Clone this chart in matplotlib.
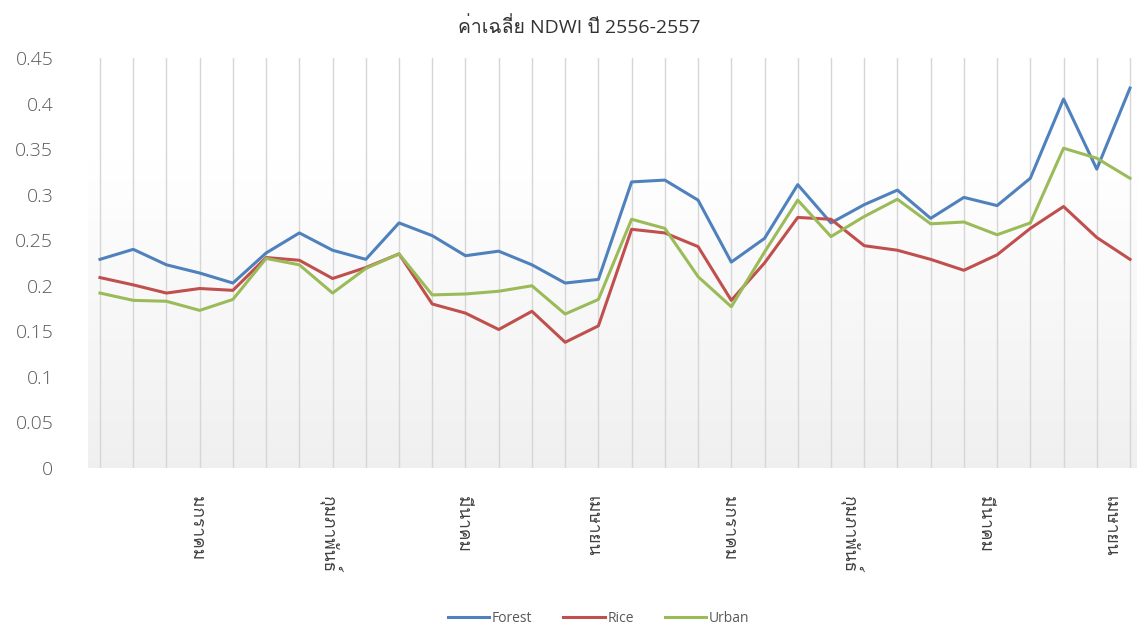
import matplotlib
matplotlib.use("Agg")
import matplotlib.pyplot as plt
import numpy as np
from matplotlib import font_manager
from matplotlib.ft2font import FT2Font

# data (32 periods, Jan-Apr 2556 and Jan-Apr 2557)
forest = [0.229, 0.240, 0.223, 0.214, 0.203, 0.236, 0.258, 0.239, 0.229, 0.269,
          0.255, 0.233, 0.238, 0.223, 0.203, 0.207, 0.314, 0.316, 0.294, 0.226,
          0.252, 0.311, 0.269, 0.289, 0.305, 0.274, 0.297, 0.288, 0.318, 0.405,
          0.328, 0.417]
rice = [0.209, 0.201, 0.192, 0.197, 0.195, 0.231, 0.228, 0.208, 0.220, 0.235,
        0.180, 0.170, 0.152, 0.172, 0.138, 0.156, 0.262, 0.258, 0.243, 0.184,
        0.225, 0.275, 0.273, 0.244, 0.239, 0.229, 0.217, 0.234, 0.263, 0.287,
        0.253, 0.229]
urban = [0.192, 0.184, 0.183, 0.173, 0.185, 0.230, 0.223, 0.192, 0.219, 0.235,
         0.190, 0.191, 0.194, 0.200, 0.169, 0.185, 0.273, 0.263, 0.210, 0.177,
         0.237, 0.294, 0.254, 0.276, 0.295, 0.268, 0.270, 0.256, 0.269, 0.351,
         0.340, 0.318]
month_labels = ["มกราคม", "กุมภาพันธ์", "มีนาคม", "เมษายน",
                "มกราคม", "กุมภาพันธ์", "มีนาคม", "เมษายน"]
month_pos = [2.9, 6.9, 10.9, 14.8, 18.9, 22.6, 26.6, 30.4]
yticks = [0, 0.05, 0.1, 0.15, 0.2, 0.25, 0.3, 0.35, 0.4, 0.45]
ytick_labels = ["0", "0.05", "0.1", "0.15", "0.2", "0.25", "0.3", "0.35", "0.4", "0.45"]


def thai_font():
    # find any installed font that has Thai glyphs
    for f in font_manager.fontManager.ttflist:
        try:
            if 0x0E01 in FT2Font(f.fname).get_charmap():
                return f.name
        except Exception:
            pass
    return None


th = thai_font()
fams = ["Open Sans"] + ([th] if th else []) + ["DejaVu Sans"]
thai_first = ([th] if th else []) + ["Open Sans", "DejaVu Sans"]
plt.rcParams['font.family'] = fams

fig = plt.figure(figsize=(11.4, 6.33), dpi=100)
W, H = 1140, 633
ax = fig.add_axes([88 / W, 1 - 468 / H, (1137 - 88) / W, (468 - 58) / H])

x = np.arange(len(forest))
step = 1030 / 31
x0, x1 = -12 / step, 31 + 7 / step
ax.set_xlim(x0, x1)

# plot area gradient, white at top to light grey at bottom
t = np.linspace(0, 1, 200)
shade = np.where(t < 0.25, 1.0, 1.0 - (t - 0.25) / 0.75 * 0.06)
grad = np.repeat(shade[:, None, None], 3, axis=2)
ax.imshow(grad, aspect='auto', extent=(x0, x1, 0, 0.45), origin='upper', zorder=0)
ax.set_xlim(x0, x1)
ax.set_ylim(0, 0.45)

ax.set_xticks(x, minor=True)
ax.grid(which='minor', axis='x', color='#d6d6d6', lw=1, zorder=1)
ax.tick_params(which='both', length=0)

ax.plot(x, forest, color='#4F81BD', lw=2.2, label="Forest", zorder=3)
ax.plot(x, rice, color='#C0504D', lw=2.2, label="Rice", zorder=3)
ax.plot(x, urban, color='#9BBB59', lw=2.2, label="Urban", zorder=3)

ax.set_yticks(yticks)
ax.set_yticklabels(ytick_labels, fontsize=14, color='#595959', family=["Open Sans"],
                   fontweight='light')
ax.tick_params(axis='y', pad=25)

ax.set_xticks(month_pos)
ax.set_xticklabels(month_labels, rotation=-90, fontsize=12.5, color='#404040',
                   family=thai_first)
ax.tick_params(axis='x', pad=20)

for s in ax.spines.values():
    s.set_visible(False)

fig.text(0.508, 1 - 27 / H, "ค่าเฉลี่ย NDWI ปี 2556-2557", ha='center', va='center',
         fontsize=14, color='#333333', family=fams)

fig.legend(loc='center', bbox_to_anchor=(0.525, 1 - 618 / H), ncol=3, frameon=False,
           fontsize=10, labelcolor='#595959', handlelength=3, columnspacing=2.2,
           handletextpad=0.2)

plt.savefig("out.png", dpi=100)
